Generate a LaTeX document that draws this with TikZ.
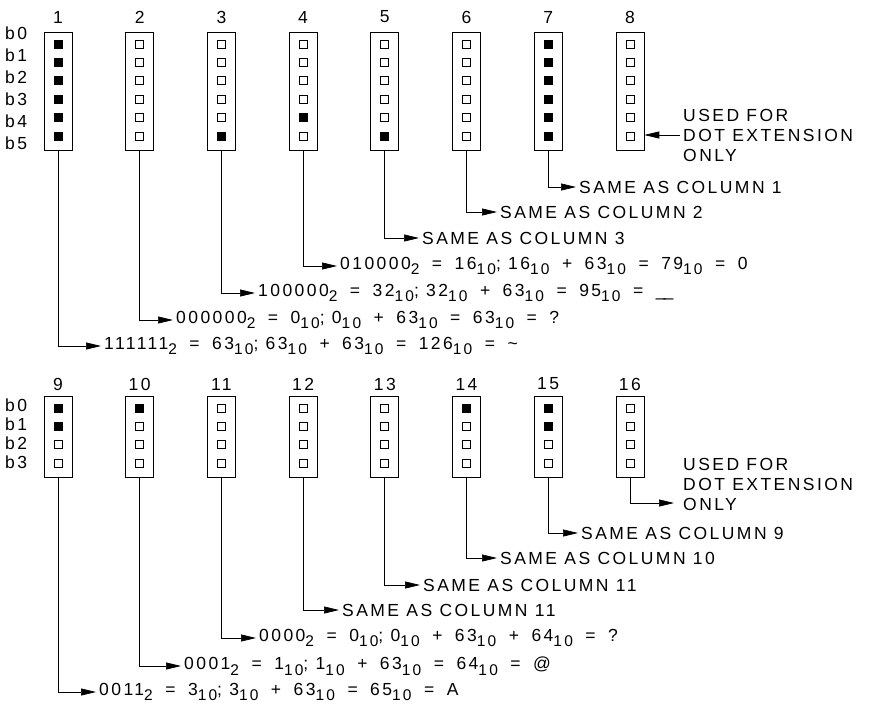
\documentclass[tikz,border=0pt]{standalone}
\usepackage{fontspec}
\setmainfont{Liberation Sans}[LetterSpace=14]
\usetikzlibrary{arrows.meta}
\tikzset{
  col/.style={draw, line width=0.8pt, minimum width=28pt, inner sep=0pt},
  lbl/.style={anchor=west, inner sep=3pt},
  feed/.style={-{Triangle[length=15pt,width=7pt]}, line width=0.7pt},
}
\newcommand{\sbs}[1]{\raisebox{-0.6ex}{\fontsize{15.5}{16}\selectfont #1}}
\newcommand{\eqs}{\hspace{12.5pt}=\hspace{12.5pt}}
\newcommand{\pls}{\hspace{12.5pt}+\hspace{12.5pt}}

\begin{document}
\begin{tikzpicture}[x=1pt, y=-1pt, every node/.style={font=\fontsize{17.5}{20}\selectfont}]
    \useasboundingbox (0,0) rectangle (873,713);

    % top row of columns, six bits
    \foreach \i in {1,...,8}
    {
        \node[col, minimum height=118pt] (c\i) at ({58+81.7*(\i-1)}, 91) {};
        \node at ({58+81.7*(\i-1)}, 17) {\i};
        \foreach \k in {0,...,5}
            \draw[line width=0.7pt] ({58+81.7*(\i-1)-4}, {40+18.4*\k}) rectangle ++(8,8);
    }
    \foreach \i/\k in {1/0, 1/1, 1/2, 1/3, 1/4, 1/5, 3/5, 4/4, 5/5, 7/0, 7/1, 7/2, 7/3, 7/4, 7/5}
    {
        \fill ({58+81.7*(\i-1)-4.5}, {39.5+18.4*\k}) rectangle ++(9,9);
    }
    \foreach \k in {0,...,5}
        \node[anchor=west, inner sep=0pt] at (5, {33+22*\k}) {b\k};

    % bottom row of columns, four bits
    \foreach \i in {9,...,16}
    {
        \node[col, minimum height=81pt] (c\i) at ({58+81.7*(\i-9)}, 436.5) {};
        \node at ({58+81.7*(\i-9)}, 384) {\i};
        \foreach \k in {0,...,3}
            \draw[line width=0.7pt] ({58+81.7*(\i-9)-4}, {404+18.3*\k}) rectangle ++(8,8);
    }
    \foreach \i/\k in {9/0, 9/1, 10/0, 14/0, 15/0, 15/1}
    {
        \fill ({58+81.7*(\i-9)-4.5}, {403.5+18.3*\k}) rectangle ++(9,9);
    }
    \foreach \k in {0,...,3}
        \node[anchor=west, inner sep=0pt] at (5, {405+19*\k}) {b\k};

    % results of the top row
    \node[lbl] (t1) at (101,346) {111111\sbs{2}\eqs 63\sbs{10}; 63\sbs{10}\pls 63\sbs{10}\eqs 126\sbs{10}\eqs \textasciitilde};
    \node[lbl] (t2) at (173,320) {000000\sbs{2}\eqs 0\sbs{10}; 0\sbs{10}\pls 63\sbs{10}\eqs 63\sbs{10}\eqs ?};
    \node[lbl] (t3) at (255,293) {100000\sbs{2}\eqs 32\sbs{10}; 32\sbs{10}\pls 63\sbs{10}\eqs 95\sbs{10}\eqs \_\kern-2pt\_};
    \node[lbl] (t4) at (337,266) {010000\sbs{2}\eqs 16\sbs{10}; 16\sbs{10}\pls 63\sbs{10}\eqs 79\sbs{10}\eqs 0};
    \node[lbl] (t5) at (419,238) {SAME AS COLUMN 3};
    \node[lbl] (t6) at (497,212) {SAME AS COLUMN 2};
    \node[lbl] (t7) at (576,187) {SAME AS COLUMN 1};
    \node[lbl, align=left] (t8) at (680,135) {USED FOR\\DOT EXTENSION\\ONLY};
    \foreach \i in {1,...,7}
        \draw[feed] (c\i.south) |- (t\i.west);
    \draw[feed] (t8.west) -- (c8.east |- t8.west);

    % results of the bottom row
    \node[lbl] (t9) at (96,692) {0011\sbs{2}\eqs 3\sbs{10}; 3\sbs{10}\pls 63\sbs{10}\eqs 65\sbs{10}\eqs A};
    \node[lbl] (t10) at (181,666) {0001\sbs{2}\eqs 1\sbs{10}; 1\sbs{10}\pls 63\sbs{10}\eqs 64\sbs{10}\eqs @};
    \node[lbl] (t11) at (256,638) {0000\sbs{2}\eqs 0\sbs{10}; 0\sbs{10}\pls 63\sbs{10}\pls 64\sbs{10}\eqs ?};
    \node[lbl] (t12) at (339,610) {SAME AS COLUMN 11};
    \node[lbl] (t13) at (420,585) {SAME AS COLUMN 11};
    \node[lbl] (t14) at (497,558) {SAME AS COLUMN 10};
    \node[lbl] (t15) at (578,533) {SAME AS COLUMN 9};
    \coordinate (a16) at (674,503);
    \node[lbl, align=left] (t16) at (680,484) {USED FOR\\DOT EXTENSION\\ONLY};
    \foreach \i in {9,...,15}
        \draw[feed] (c\i.south) |- (t\i.west);
    \draw[feed] (c16.south) |- (a16);
\end{tikzpicture}
\end{document}
